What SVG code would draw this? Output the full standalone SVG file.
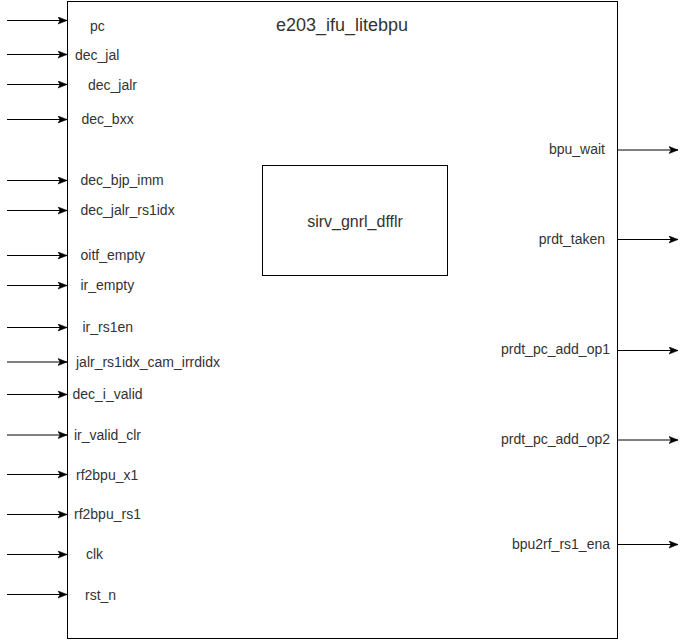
<svg xmlns="http://www.w3.org/2000/svg" width="686" height="642" viewBox="0 0 686 642">
  <style>
    .box { fill: #ffffff; stroke: #000000; stroke-width: 1; }
    .wire { stroke: #000000; stroke-width: 1; fill: none; marker-end: url(#arrow); }
    .port { font-family: "Liberation Sans", Arial, sans-serif; font-size: 14px; fill: #333333; }
    .title { font-family: "Liberation Sans", Arial, sans-serif; font-size: 18px; fill: #333333; }
    .sub { font-family: "Liberation Sans", Arial, sans-serif; font-size: 16px; fill: #333333; }
    .out { text-anchor: end; }
  </style>
  <defs>
    <marker id="arrow" markerUnits="userSpaceOnUse" markerWidth="10" markerHeight="10" refX="9" refY="4" orient="auto">
      <path d="M0,0.5 L9,4 L0,7.5 L2.2,4 Z" fill="#000000" stroke="#000000" stroke-width="0.6"/>
    </marker>
  </defs>
  <rect width="686" height="642" fill="#ffffff"/>

  <!-- top-level module -->
  <g id="e203_ifu_litebpu">
    <rect class="box" x="67.5" y="1.5" width="550" height="637"/>
    <text class="title" x="276" y="31">e203_ifu_litebpu</text>
  </g>

  <!-- instantiated flop -->
  <g id="sirv_gnrl_dfflr">
    <rect class="box" x="262.5" y="165.5" width="185" height="110"/>
    <text class="sub" x="355" y="227" text-anchor="middle">sirv_gnrl_dfflr</text>
  </g>

  <!-- input port labels -->
  <g id="inputs">
    <text class="port" x="90" y="31">pc</text>
    <text class="port" x="75" y="60">dec_jal</text>
    <text class="port" x="88" y="90">dec_jalr</text>
    <text class="port" x="81.5" y="124">dec_bxx</text>
    <text class="port" x="80.5" y="185">dec_bjp_imm</text>
    <text class="port" x="80.5" y="215">dec_jalr_rs1idx</text>
    <text class="port" x="80.5" y="260">oitf_empty</text>
    <text class="port" x="80.5" y="290">ir_empty</text>
    <text class="port" x="82.5" y="332">ir_rs1en</text>
    <text class="port" x="76" y="367">jalr_rs1idx_cam_irrdidx</text>
    <text class="port" x="72.5" y="399">dec_i_valid</text>
    <text class="port" x="74" y="439.5">ir_valid_clr</text>
    <text class="port" x="76" y="479.5">rf2bpu_x1</text>
    <text class="port" x="74" y="519">rf2bpu_rs1</text>
    <text class="port" x="86" y="559">clk</text>
    <text class="port" x="85" y="600">rst_n</text>
  </g>

  <!-- output port labels -->
  <g id="outputs">
    <text class="port out" x="605" y="154">bpu_wait</text>
    <text class="port out" x="605" y="243.5">prdt_taken</text>
    <text class="port out" x="610" y="354">prdt_pc_add_op1</text>
    <text class="port out" x="610" y="444">prdt_pc_add_op2</text>
    <text class="port out" x="610" y="548.5">bpu2rf_rs1_ena</text>
  </g>

  <!-- connectors -->
  <g id="connectors">
    <line class="wire" x1="7" y1="20.5" x2="67" y2="20.5"/>
    <line class="wire" x1="7" y1="54.5" x2="67" y2="54.5"/>
    <line class="wire" x1="7" y1="84.5" x2="67" y2="84.5"/>
    <line class="wire" x1="7" y1="119.5" x2="67" y2="119.5"/>
    <line class="wire" x1="7" y1="180.5" x2="67" y2="180.5"/>
    <line class="wire" x1="7" y1="210.5" x2="67" y2="210.5"/>
    <line class="wire" x1="7" y1="255.5" x2="67" y2="255.5"/>
    <line class="wire" x1="7" y1="285.5" x2="67" y2="285.5"/>
    <line class="wire" x1="7" y1="327.5" x2="67" y2="327.5"/>
    <line class="wire" x1="7" y1="362" x2="67" y2="362"/>
    <line class="wire" x1="7" y1="394.5" x2="67" y2="394.5"/>
    <line class="wire" x1="7" y1="435" x2="67" y2="435"/>
    <line class="wire" x1="7" y1="474.5" x2="67" y2="474.5"/>
    <line class="wire" x1="7" y1="514.5" x2="67" y2="514.5"/>
    <line class="wire" x1="7" y1="554.5" x2="67" y2="554.5"/>
    <line class="wire" x1="7" y1="594.5" x2="67" y2="594.5"/>

    <line class="wire" x1="618" y1="150" x2="678" y2="150"/>
    <line class="wire" x1="618" y1="239.5" x2="678" y2="239.5"/>
    <line class="wire" x1="618" y1="350.5" x2="678" y2="350.5"/>
    <line class="wire" x1="618" y1="440" x2="678" y2="440"/>
    <line class="wire" x1="618" y1="544.5" x2="678" y2="544.5"/>
  </g>
</svg>
